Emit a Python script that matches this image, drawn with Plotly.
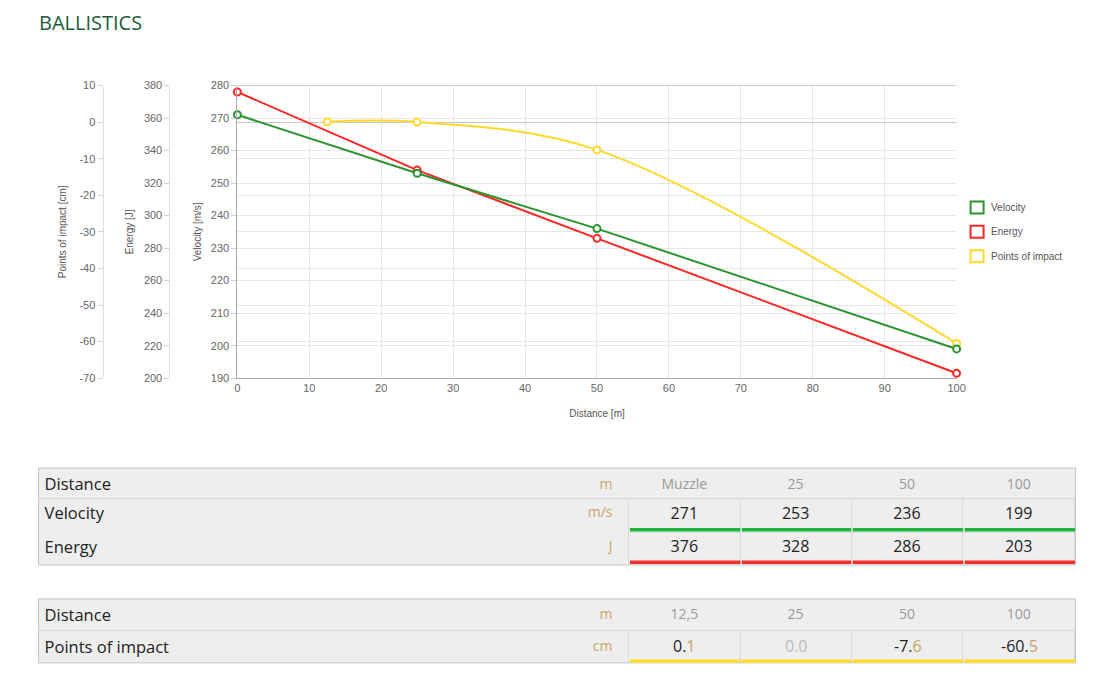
import plotly.graph_objects as go

# chart data
distance = [0, 25, 50, 100]
velocity = [271, 253, 236, 199]
energy = [376, 328, 286, 203]
poi_distance = [12.5, 25, 50, 100]
poi = [0.1, 0.0, -7.6, -60.5]

series_names = ['Velocity', 'Energy', 'Points of impact']
units = ['m/s', 'J', 'cm']

poi_ticks = [-70, -60, -50, -40, -30, -20, -10, 0, 10]
energy_ticks = [200, 220, 240, 260, 280, 300, 320, 340, 360, 380]
velocity_ticks = [190, 200, 210, 220, 230, 240, 250, 260, 270, 280]

W, H = 1088, 663
# screen position -> figure pixel (the page margin shifts and the photo scales a bit)
SX, SY, BX, BY = 0.99, 0.983, 10.4, 13.4


def px(x):
    return (x - BX) / SX / W


def py(y):
    return 1 - (y - BY) / SY / H


GREEN = '#2b942f'
RED = '#ff2626'
YELLOW = '#ffd92a'
BAR_GREEN = '#1fb53c'
BAR_RED = '#f2302b'
BAR_YELLOW = '#ffdd22'
TAN = '#c9a46c'
GRID = '#e6e6e6'
FILL = '#eeeeee'
TICK_FONT = dict(family='Arial', size=11, color='#666')
TITLE_FONT = dict(family='Arial', size=10, color='#555')

fig = go.Figure()

# chart lines: POI on the base axis, then energy, velocity on top
fig.add_trace(go.Scatter(
    x=poi_distance, y=poi, yaxis='y', name=series_names[2],
    mode='lines+markers', line=dict(color=YELLOW, width=2, shape='spline'),
    marker=dict(symbol='circle', size=7, color='white', line=dict(color=YELLOW, width=2)),
    showlegend=False, cliponaxis=False
))
fig.add_trace(go.Scatter(
    x=distance, y=energy, yaxis='y2', name=series_names[1],
    mode='lines+markers', line=dict(color=RED, width=2),
    marker=dict(symbol='circle', size=7, color='white', line=dict(color=RED, width=2)),
    showlegend=False, cliponaxis=False
))
fig.add_trace(go.Scatter(
    x=distance, y=velocity, yaxis='y3', name=series_names[0],
    mode='lines+markers', line=dict(color=GREEN, width=2),
    marker=dict(symbol='circle', size=7, color='white', line=dict(color=GREEN, width=2)),
    showlegend=False, cliponaxis=False
))

x0, x1 = px(237), px(957)
y0, y1 = py(378), py(85)

shapes = []
annotations = []

# plot top border
shapes.append(dict(type='line', xref='paper', yref='paper', x0=x0, x1=x1, y0=y1, y1=y1,
                   line=dict(color='#cccccc', width=1)))

# hand-made legend: open squares with labels
for i, (name, col) in enumerate(zip(series_names, [GREEN, RED, YELLOW])):
    cy = 207 + i * 24.5
    shapes.append(dict(type='rect', xref='paper', yref='paper',
                       x0=px(971), x1=px(984), y0=py(cy + 6), y1=py(cy - 6),
                       line=dict(color=col, width=2), fillcolor='white'))
    annotations.append(dict(text=name, xref='paper', yref='paper', x=px(989), y=py(cy),
                            xanchor='left', yanchor='middle', showarrow=False,
                            font=dict(family='Arial', size=10, color='#555')))

# ---- tables ----
col_px = [507, 76, 8, 112, 111, 112, 112]
tx0, tx1 = 38, 1076
edges = [tx0]
for w in col_px:
    edges.append(edges[-1] + w)

head1 = ['Muzzle' if d == 0 else str(d) for d in distance]
head2 = [('%g' % d).replace('.', ',') for d in poi_distance]


def poi_text(v):
    s = '%.1f' % v
    if v == 0:
        return s
    whole, dec = s.split('.')
    return f"{whole}.<span style='color:{TAN}'>{dec}</span>"


line_cols = [FILL, FILL, FILL, '#dadada', '#dadada', '#dadada', '#dadada']
align = ['left', 'right', 'left', 'center', 'center', 'center', 'center']
head_font_color = ['#222', TAN, '#999', '#999', '#999', '#999', '#999']
head_font_size = [16.5, 14, 14, 14, 14, 14, 14]
cell_font_size = [16.5, 14, 14, 16, 16, 16, 16]
widths = [col_px[0] + 2] + col_px[1:]

fig.add_trace(go.Table(
    domain=dict(x=[px(tx0 - 2), px(tx1)], y=[py(566), py(470)]),
    columnwidth=widths,
    header=dict(
        values=['Distance', 'm', ''] + head1,
        fill_color=FILL, line=dict(color=FILL, width=1), align=align, height=28 / SY,
        font=dict(family='Open Sans', size=head_font_size, color=head_font_color)
    ),
    cells=dict(
        values=[series_names[:2], units[:2], ['', '']] + [[v, e] for v, e in zip(velocity, energy)],
        fill_color=FILL, line=dict(color=line_cols, width=1), align=align, height=33 / SY,
        font=dict(family='Open Sans', size=cell_font_size,
                  color=['#222', TAN, '#222', '#222', '#222', '#222', '#222'])
    )
))

# POI values are written as annotations so the decimals can take their own colour
fig.add_trace(go.Table(
    domain=dict(x=[px(tx0 - 2), px(tx1)], y=[py(664), py(601)]),
    columnwidth=widths,
    header=dict(
        values=['Distance', 'm', ''] + head2,
        fill_color=FILL, line=dict(color=FILL, width=1), align=align, height=31 / SY,
        font=dict(family='Open Sans', size=head_font_size, color=head_font_color)
    ),
    cells=dict(
        values=[[series_names[2]], [units[2]], ['']] + [[''] for _ in poi],
        fill_color=FILL, line=dict(color=line_cols, width=1), align=align, height=31 / SY,
        font=dict(family='Open Sans', size=cell_font_size,
                  color=['#222', TAN, '#222', '#222', '#222', '#222', '#222'])
    )
))
for i, v in enumerate(poi):
    cx = (edges[3 + i] + edges[4 + i]) / 2
    annotations.append(dict(text=poi_text(v), xref='paper', yref='paper', x=px(cx), y=py(646.5),
                            xanchor='center', yanchor='middle', showarrow=False,
                            font=dict(family='Open Sans', size=16,
                                      color='#bbbbbb' if v == 0 else '#222')))

for top, bottom in [(467, 566), (598, 664)]:
    # white strip so the table fill does not show left of the frame
    shapes.append(dict(type='rect', xref='paper', yref='paper',
                       x0=px(tx0 - 4), x1=px(tx0), y0=py(bottom), y1=py(top),
                       line=dict(width=0), fillcolor='white'))
    # grey strip above the header, where the table starts a little lower
    shapes.append(dict(type='rect', xref='paper', yref='paper',
                       x0=px(tx0), x1=px(tx1), y0=py(top + 4), y1=py(top + 1),
                       line=dict(width=0), fillcolor=FILL))

# table frames, separators and coloured bars
for top, sep, bottom, bars in [(468, 498.5, 565, [(528, BAR_GREEN), (560.5, BAR_RED)]),
                               (599, 630.5, 663, [(659.5, BAR_YELLOW)])]:
    shapes.append(dict(type='rect', xref='paper', yref='paper',
                       x0=px(tx0), x1=px(tx1), y0=py(bottom), y1=py(top),
                       line=dict(color='#c4c4c4', width=1)))
    shapes.append(dict(type='line', xref='paper', yref='paper',
                       x0=px(tx0), x1=px(tx1), y0=py(sep), y1=py(sep),
                       line=dict(color='#d8d8d8', width=1)))
    for by, bc in bars:
        for i in range(3, 7):
            shapes.append(dict(type='rect', xref='paper', yref='paper',
                               x0=px(edges[i] + 1), x1=px(edges[i + 1] - 0.5),
                               y0=py(by + 3.5), y1=py(by),
                               line=dict(width=0), fillcolor=bc))

annotations.append(dict(text='BALLISTICS', xref='paper', yref='paper', x=px(36), y=py(22),
                        xanchor='left', yanchor='middle', showarrow=False,
                        font=dict(family='Open Sans', size=20, color='#1b5c3c')))

fig.update_layout(
    width=W, height=H,
    margin=dict(l=0, r=0, t=0, b=0),
    paper_bgcolor='white', plot_bgcolor='white',
    shapes=shapes,
    annotations=annotations,
    showlegend=False,
    xaxis=dict(
        domain=[x0, x1], anchor='y3', range=[0, 100], dtick=10,
        showgrid=True, gridcolor=GRID, zeroline=False,
        showline=True, linecolor='#aaaaaa', ticks='', tickfont=TICK_FONT,
        title=dict(text='Distance [m]', font=TITLE_FONT, standoff=16)
    ),
    yaxis=dict(
        domain=[y0, y1], anchor='free', position=px(102), range=[-70, 10],
        tickvals=poi_ticks, ticktext=[str(t) for t in poi_ticks],
        showgrid=True, gridcolor=GRID, zeroline=True, zerolinecolor='#c8c8c8', zerolinewidth=1,
        showline=True, linecolor='#e0e0e0', ticks='outside', ticklen=5, tickcolor='#d0d0d0',
        tickfont=TICK_FONT,
        title=dict(text='Points of impact [cm]', font=TITLE_FONT, standoff=9)
    ),
    yaxis2=dict(
        domain=[y0, y1], overlaying='y', anchor='free', position=px(169), range=[200, 380],
        tickvals=energy_ticks, ticktext=[str(t) for t in energy_ticks],
        showgrid=False, zeroline=False,
        showline=True, linecolor='#e0e0e0', ticks='outside', ticklen=5, tickcolor='#d0d0d0',
        tickfont=TICK_FONT,
        title=dict(text='Energy [J]', font=TITLE_FONT, standoff=7)
    ),
    yaxis3=dict(
        domain=[y0, y1], overlaying='y', anchor='x', range=[190, 280],
        tickvals=velocity_ticks, ticktext=[str(t) for t in velocity_ticks],
        showgrid=True, gridcolor=GRID, zeroline=False,
        showline=True, linecolor='#aaaaaa', ticks='outside', ticklen=5, tickcolor='#d0d0d0',
        tickfont=TICK_FONT,
        title=dict(text='Velocity [m/s]', font=TITLE_FONT, standoff=7)
    ),
    hovermode=False
)

fig.write_html('out.html')
